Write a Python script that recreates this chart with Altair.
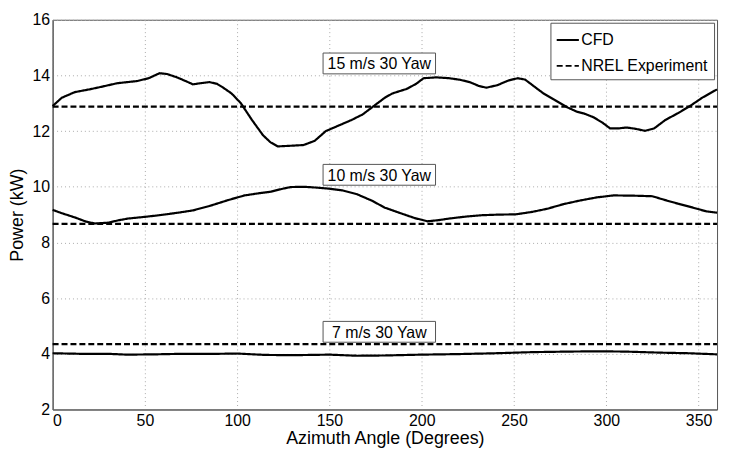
import altair as alt
import pandas as pd

# ---- data ----
cfd15_angle = [0, 5, 12, 20, 27, 35, 46, 52, 58, 62, 67, 72, 76, 80, 85, 89, 92, 97, 102, 108,
               114, 118, 122, 128, 136, 142, 148, 155, 162, 168, 175, 180, 184, 192, 197, 201,
               208, 215, 221, 226, 231, 235, 241, 247, 252, 256, 261, 266, 272, 279, 284, 288,
               293, 298, 302, 307, 311, 316, 321, 326, 332, 339, 346, 352, 360]
cfd15_power = [12.9, 13.2, 13.4, 13.5, 13.6, 13.72, 13.8, 13.9, 14.08, 14.05, 13.94, 13.8, 13.68,
               13.72, 13.76, 13.7, 13.58, 13.35, 13.0, 12.4, 11.85, 11.6, 11.45, 11.47, 11.5,
               11.65, 12.0, 12.2, 12.4, 12.6, 12.95, 13.2, 13.35, 13.52, 13.7, 13.9, 13.93, 13.9,
               13.84, 13.76, 13.62, 13.56, 13.65, 13.82, 13.9, 13.85, 13.6, 13.35, 13.12, 12.85,
               12.7, 12.63, 12.5, 12.3, 12.1, 12.1, 12.13, 12.08, 12.01, 12.1, 12.4, 12.65, 12.93,
               13.2, 13.5]

cfd10_angle = [0, 5, 12, 18, 23, 30, 36, 41, 50, 58, 67, 76, 86, 95, 104, 112, 118, 124, 129,
               136, 143, 150, 157, 165, 173, 180, 189, 196, 203, 209, 215, 224, 233, 242, 251,
               260, 268, 277, 286, 295, 304, 315, 325, 332, 339, 347, 354, 360]
cfd10_power = [9.17, 9.05, 8.9, 8.75, 8.68, 8.71, 8.8, 8.86, 8.92, 8.98, 9.06, 9.15, 9.33, 9.52,
               9.69, 9.77, 9.82, 9.92, 9.99, 10.0, 9.97, 9.93, 9.87, 9.73, 9.5, 9.25, 9.04, 8.88,
               8.76, 8.8, 8.86, 8.93, 8.98, 9.0, 9.01, 9.1, 9.21, 9.38, 9.51, 9.62, 9.69, 9.68,
               9.66, 9.52, 9.39, 9.25, 9.12, 9.07]

cfd7_angle = [0, 15, 30, 40, 55, 70, 90, 100, 115, 130, 150, 165, 180, 200, 220, 240, 260, 280,
              295, 310, 330, 345, 360]
cfd7_power = [4.02, 4.0, 4.0, 3.97, 3.98, 4.0, 4.0, 4.01, 3.96, 3.95, 3.97, 3.93, 3.94, 3.97,
              3.99, 4.02, 4.06, 4.08, 4.09, 4.08, 4.04, 4.02, 3.98]

cases = ["15 m/s 30 Yaw", "10 m/s 30 Yaw", "7 m/s 30 Yaw"]
nrel_power = [12.88, 8.67, 4.35]
nrel_angle = [0, 360]

label_angle = [177, 177, 177]
label_power = [14.43, 10.43, 4.79]

# ---- build tables ----
rows = []
for case, ang, pw in zip(cases, [cfd15_angle, cfd10_angle, cfd7_angle],
                         [cfd15_power, cfd10_power, cfd7_power]):
    for a, p in zip(ang, pw):
        rows.append({"angle": a, "power": p, "source": "CFD", "case": case})
for case, p in zip(cases, nrel_power):
    for a in nrel_angle:
        rows.append({"angle": a, "power": p, "source": "NREL Experiment", "case": case})
df = pd.DataFrame(rows)

labels = pd.DataFrame({"angle": label_angle, "power": label_power, "text": cases})

FONT = "Liberation Sans"

x_scale = alt.Scale(domain=[0, 360], nice=False, zero=False)
y_scale = alt.Scale(domain=[2, 16], nice=False, zero=False)

lines = alt.Chart(df).mark_line(color="black", strokeWidth=2.2).encode(
    x=alt.X("angle:Q", scale=x_scale,
            axis=alt.Axis(title="Azimuth Angle (Degrees)", values=list(range(0, 400, 50)))),
    y=alt.Y("power:Q", scale=y_scale,
            axis=alt.Axis(title="Power (kW)", values=list(range(2, 18, 2)))),
    strokeDash=alt.StrokeDash(
        "source:N",
        scale=alt.Scale(domain=["CFD", "NREL Experiment"], range=[[1, 0], [6, 3]]),
        legend=alt.Legend(title=None, orient="top-right", offset=3,
                          strokeColor="#555", fillColor="white", padding=5,
                          symbolType="stroke", symbolSize=500, symbolStrokeWidth=2,
                          symbolStrokeColor="black",
                          labelFontSize=16, labelFont=FONT, labelOffset=1,
                          rowPadding=5)),
    detail="case:N",
    order="angle:Q",
)

boxes = alt.Chart(labels).mark_point(
    shape="M-5.4,-1H5.4V1H-5.4Z", size=441, filled=True, fill="white",
    stroke="#555", strokeWidth=1, opacity=1,
).encode(x=alt.X("angle:Q", scale=x_scale), y=alt.Y("power:Q", scale=y_scale))

texts = alt.Chart(labels).mark_text(
    font=FONT, fontSize=16, color="black", align="center", baseline="middle", dy=1,
).encode(x=alt.X("angle:Q", scale=x_scale), y=alt.Y("power:Q", scale=y_scale), text="text:N")

chart = alt.layer(lines, boxes, texts).properties(
    width=670, height=393,
    padding={"left": 0, "top": 2, "right": 0, "bottom": 0},
).configure_axis(
    labelFont=FONT, labelFontSize=16, labelColor="black",
    titleFont=FONT, titleFontSize=18, titleFontWeight="normal", titleColor="black",
    domainColor="#555", tickColor="#555", ticks=False, labelPadding=3,
    grid=True, gridColor="#aaa", gridDash=[1, 3], gridWidth=1,
).configure_axisY(titlePadding=6).configure_axisX(titlePadding=1, labelPadding=3).configure_view(
    stroke="#555", strokeWidth=1
)

chart.save("out.html", embed_options={"renderer": "svg", "actions": False})
